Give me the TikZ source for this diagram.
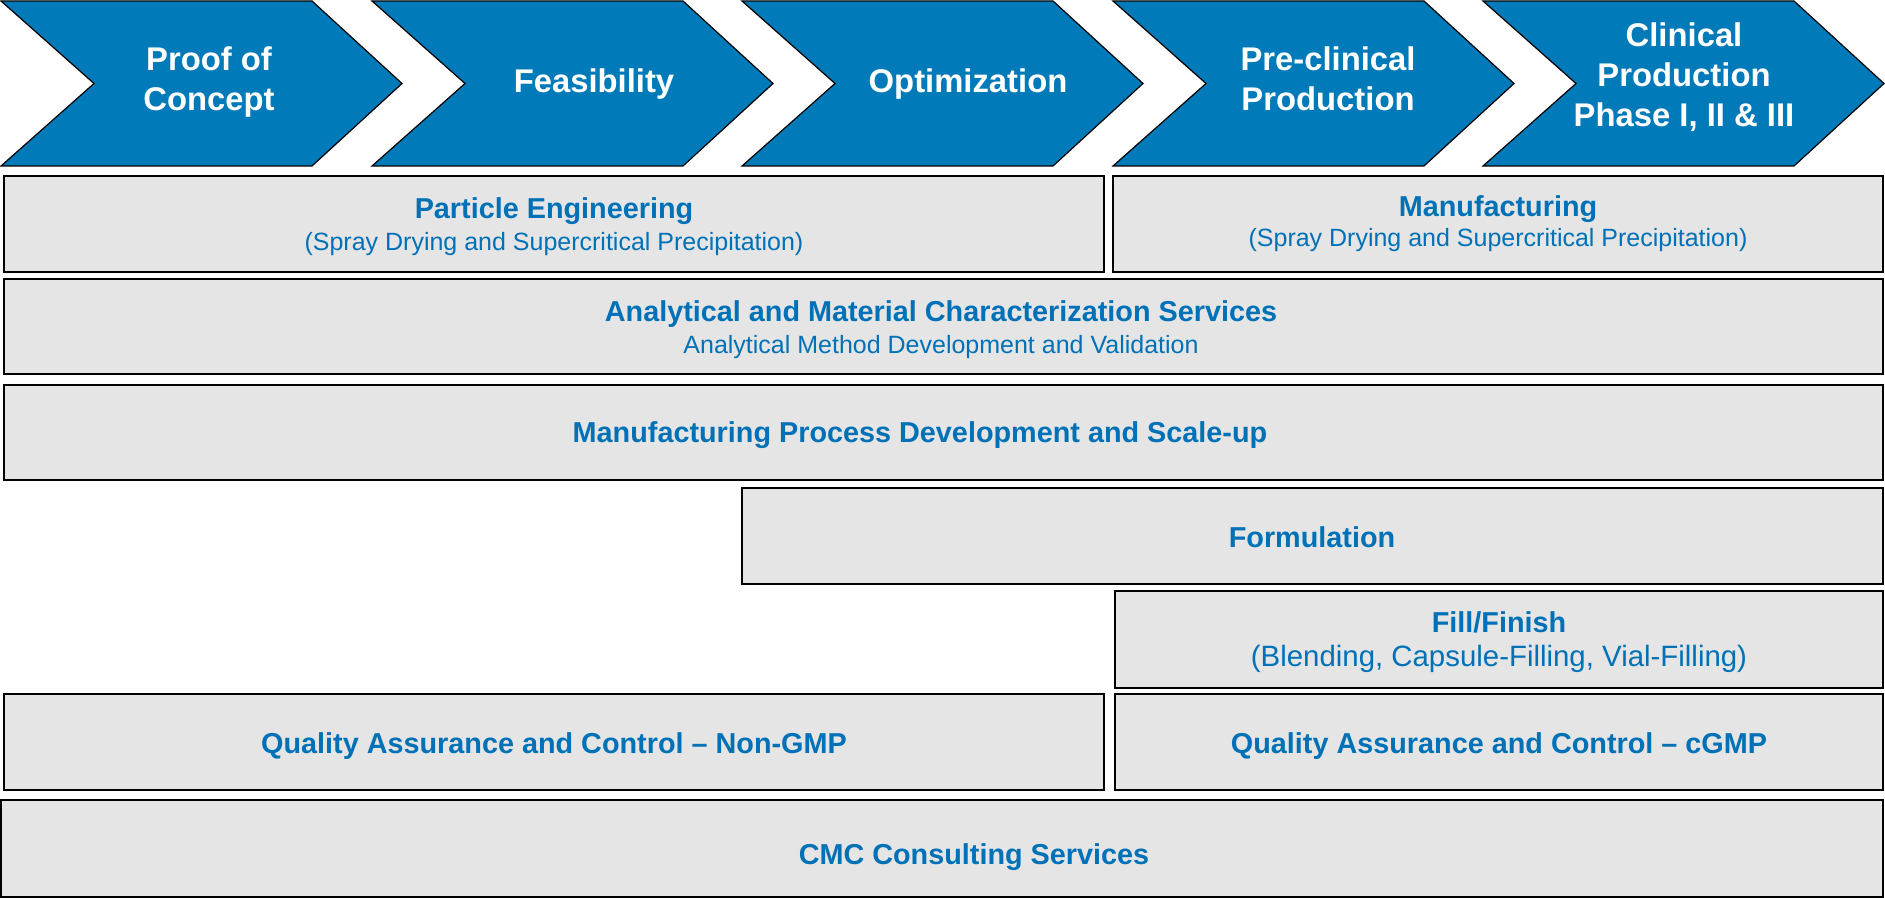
\documentclass[tikz,border=0pt]{standalone}
\usepackage{fontspec}
\setmainfont{Liberation Sans}
\definecolor{chevblue}{RGB}{0,122,184}
\definecolor{txtblue}{RGB}{0,113,183}
\definecolor{boxgray}{RGB}{229,229,229}
\tikzset{
    chev/.style={fill=chevblue, draw=black, line width=0.6pt},
    chevtext/.style={text=white, align=center, font=\fontsize{16.4}{20}\selectfont\bfseries},
    box/.style={fill=boxgray, draw=black, line width=0.85pt},
    boxtext/.style={text=txtblue, align=center, font=\fontsize{12.5}{16}\selectfont},
}
\newcommand{\ttl}[1]{{\fontsize{14.4}{16}\selectfont\bfseries #1}}
\begin{document}
\begin{tikzpicture}[x=0.5pt, y=-0.5pt]
    \useasboundingbox (0,0) rectangle (1885,898);

    % phases
    \foreach \xa/\xt/\yt/\nm/\txt in {1/209/82/poc/{Proof of\\Concept},
        372/594/84.5/feas/{Feasibility},
        742/968/84.5/optim/{Optimization},
        1113/1328/79/precl/{Pre-clinical\\Production},
        1483/1684/77/clin/{Clinical\\Production\\Phase I, II \& III}}
    {
        \draw[chev] (\xa,1)--++(311,0)--++(90,82.5)--++(-90,82.5)--++(-311,0)--++(93,-82.5)--cycle;
        \node[chevtext] (\nm) at (\xt,\yt) {\txt};
    }

    % services
    \draw[box] (4,176) rectangle (1104,272);
    \node[boxtext] (parteng) at (554,226.5) {\ttl{Particle Engineering}\\(Spray Drying and Supercritical Precipitation)};
    \draw[box] (1113,176) rectangle (1883,272);
    \node[boxtext, font=\fontsize{12.5}{15}\selectfont] (manuf) at (1498,224) {\ttl{Manufacturing}\\(Spray Drying and Supercritical Precipitation)};
    \draw[box] (4,279) rectangle (1883,374);
    \node[boxtext] (analyt) at (941,329.5) {\ttl{Analytical and Material Characterization Services}\\Analytical Method Development and Validation};
    \draw[box] (4,385) rectangle (1883,480);
    \node[boxtext] (process) at (920,435.5) {\ttl{Manufacturing Process Development and Scale-up}};
    \draw[box] (742,488) rectangle (1883,584);
    \node[boxtext] (formul) at (1312,537) {\ttl{Formulation}};
    \draw[box] (1115,591) rectangle (1883,688);
    \node[boxtext, font=\fontsize{14.7}{17}\selectfont] (fill) at (1499,642.5) {\ttl{Fill/Finish}\\(Blending, Capsule-Filling, Vial-Filling)};
    \draw[box] (4,694) rectangle (1104,790);
    \node[boxtext] (qanon) at (554,746) {\ttl{Quality Assurance and Control – Non-GMP}};
    \draw[box] (1115,694) rectangle (1883,790);
    \node[boxtext] (qacgmp) at (1499,746) {\ttl{Quality Assurance and Control – cGMP}};
    \draw[box] (1,800) rectangle (1883,897);
    \node[boxtext] (cmc) at (974,857.5) {\ttl{CMC Consulting Services}};
\end{tikzpicture}
\end{document}
